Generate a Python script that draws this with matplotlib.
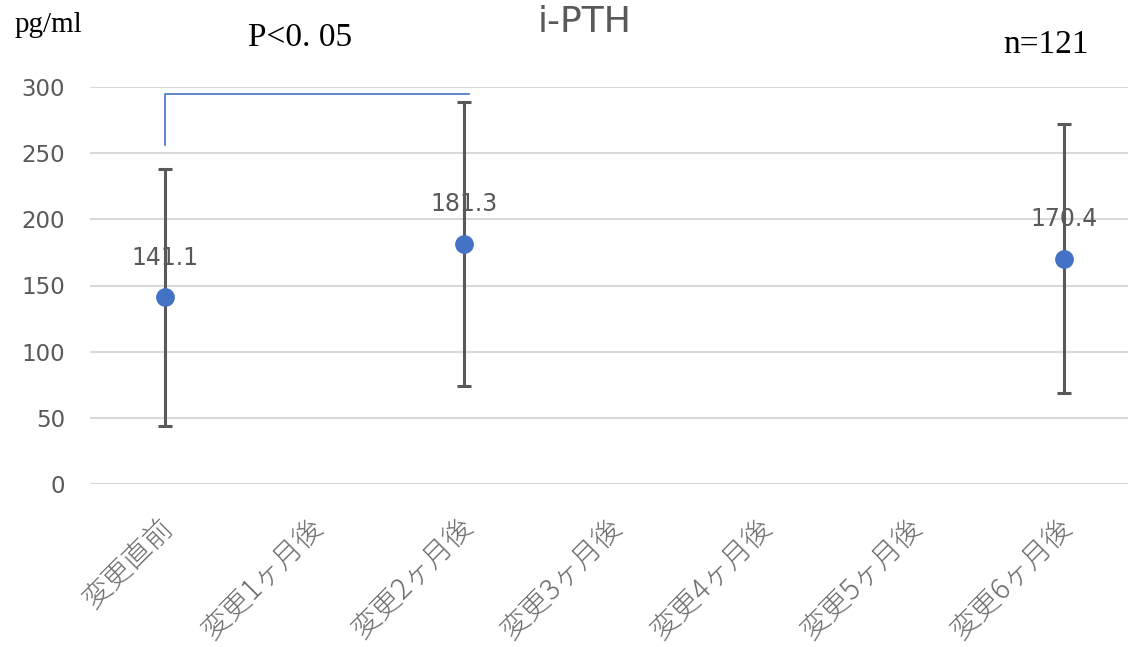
import numpy as np
import matplotlib.pyplot as plt

# data
categories = ['変更直前', '変更1ヶ月後', '変更2ヶ月後', '変更3ヶ月後',
              '変更4ヶ月後', '変更5ヶ月後', '変更6ヶ月後']
means = [141.1, np.nan, 181.3, np.nan, np.nan, np.nan, 170.4]
sds = [97.0, np.nan, 107.5, np.nan, np.nan, np.nan, 101.6]
yticks = [0, 50, 100, 150, 200, 250, 300]

# bracket for the significance mark (from category 0 to category 2)
bracket_x = [0, 0, 2.03]
bracket_y = [256, 295, 295]

plt.rcParams['font.family'] = ['Noto Sans CJK JP', 'DejaVu Sans']

fig = plt.figure(figsize=(11.28, 6.47), dpi=100)
ax = fig.add_axes([90 / 1128, 1 - 484 / 647, 1 - 90 / 1128, (484 - 87) / 647])

x = np.arange(len(categories))
m = np.array(means)
s = np.array(sds)
ok = ~np.isnan(m)

ax.errorbar(x[ok], m[ok], yerr=s[ok], fmt='none', ecolor='#595959',
            elinewidth=2.2, capsize=5, capthick=2.2, zorder=2)
ax.plot(x[ok], m[ok], 'o', color='#4472C4', markersize=12.5, zorder=3)

for xi, mi in zip(x[ok], m[ok]):
    ax.text(xi, mi + 30, f'{mi:.1f}', ha='center', va='center',
            fontsize=17, color='#595959', family=['DejaVu Sans'])

ax.plot(bracket_x, bracket_y, color='#4472C4', lw=1.2, zorder=1)

ax.set_xlim(-0.5, 6.43)
ax.set_ylim(0, 300)
ax.set_yticks(yticks)
ax.set_xticks(x)
ax.set_xticklabels([])
# category labels, rotated 45 degrees, placed under each tick
for xi, cat in zip(x, categories):
    ax.annotate(cat, xy=(xi, 0), xycoords=ax.get_xaxis_transform(),
                xytext=(-5, -20), textcoords='offset points',
                rotation=45, rotation_mode='anchor', ha='right', va='top',
                fontsize=20.5, color='#6b6b6b', fontweight='light',
                annotation_clip=False)
for lbl in ax.get_yticklabels():
    lbl.set_fontsize(16.5)
    lbl.set_color('#595959')
    lbl.set_family(['DejaVu Sans'])
ax.tick_params(axis='both', length=0)
ax.tick_params(axis='y', pad=18)
ax.grid(axis='y', color='#D9D9D9', lw=1.5)
ax.set_axisbelow(True)
for sp in ax.spines.values():
    sp.set_visible(False)

fig.text(585 / 1128, 1 - 22 / 647, 'i-PTH', ha='center', va='center',
         fontsize=26, color='#595959', family=['DejaVu Sans'])
fig.text(15 / 1128, 1 - 25 / 647, 'pg/ml', ha='left', va='center',
         fontsize=21, color='black', family=['Liberation Serif'])
fig.text(248 / 1128, 1 - 38 / 647, 'P<0. 05', ha='left', va='center',
         fontsize=24, color='black', family=['Liberation Serif'])
fig.text(1003 / 1128, 1 - 45 / 647, 'n=121', ha='left', va='center',
         fontsize=24, color='black', family=['Liberation Serif'])

fig.savefig('out.png', dpi=100)
